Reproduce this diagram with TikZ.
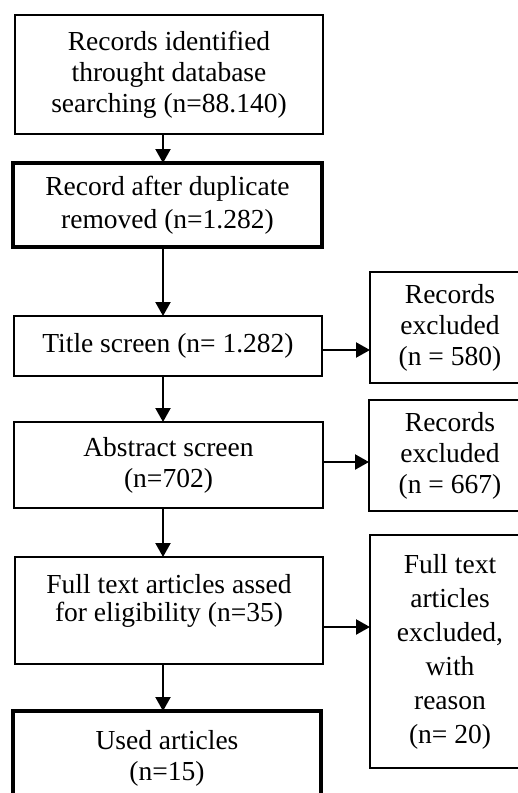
\documentclass[tikz,border=0pt]{standalone}
\usepackage{fontspec}
\setmainfont{Liberation Serif}
\usetikzlibrary{arrows.meta}
\begin{document}
\begin{tikzpicture}[x=1pt,y=-1pt,
  box/.style={draw, line width=2.4pt, rectangle, inner sep=0pt, outer sep=0pt,
    align=center, font=\fontsize{27.5}{31}\selectfont},
  boldbox/.style={box, line width=3.3pt},
  heavybox/.style={box, line width=4.2pt},
  caption/.style={align=center, inner sep=0pt, font=\fontsize{27.5}{28.5}\selectfont},
  flow/.style={line width=2.2pt, -{Triangle[width=15pt,length=14pt]}}]
\useasboundingbox (0,0) rectangle (518,793);
\clip (0,0) rectangle (518,793);

% main column
\node[box, minimum width=308pt, minimum height=119pt] (b1) at (169,74.5)
  {Records identified\\throught database\\searching (n=88.140)};
\node[boldbox, minimum width=309pt, minimum height=84pt,
  font=\fontsize{27.5}{33}\selectfont] (b2) at (167.5,205)
  {Record after duplicate\\removed (n=1.282)};
\node[box, minimum width=308pt, minimum height=60pt] (b3) at (168,346)
  {Title screen (n= 1.282)};
\node[box, minimum width=309pt, minimum height=86pt] (b4) at (168.5,465)
  {Abstract screen\\(n=702)};
\node[box, minimum width=308pt, minimum height=107pt] (b5) at (169,610.5) {};
\node[caption] (t5) at (169,601)
  {Full text articles assed\\for eligibility (n=35)};
\node[heavybox, minimum width=308pt, minimum height=94pt] (b6) at (167,758)
  {Used articles\\(n=15)};

% exclusion column
\node[box, minimum width=160pt, minimum height=111pt] (r1) at (450,327.5)
  {Records\\excluded\\(n = 580)};
\node[box, minimum width=162pt, minimum height=111pt] (r2) at (450,455.5)
  {Records\\excluded\\(n = 667)};
\node[box, minimum width=160pt, minimum height=233pt,
  font=\fontsize{27.5}{34}\selectfont] (r3) at (450,651.5)
  {Full text\\articles\\excluded,\\with\\reason\\(n= 20)};

% connector guides
\coordinate (vx) at (163,0);
\coordinate (h1) at (0,350);
\coordinate (h2) at (0,462);
\coordinate (h3) at (0,627);

\draw[flow] (b1.south -| vx) -- (b2.north -| vx);
\draw[flow] (b2.south -| vx) -- (b3.north -| vx);
\draw[flow] (b3.south -| vx) -- (b4.north -| vx);
\draw[flow] (b4.south -| vx) -- (b5.north -| vx);
\draw[flow] (b5.south -| vx) -- (b6.north -| vx);

\draw[flow] (b3.east |- h1) -- (r1.west |- h1);
\draw[flow] (b4.east |- h2) -- (r2.west |- h2);
\draw[flow] (b5.east |- h3) -- (r3.west |- h3);
\end{tikzpicture}
\end{document}
